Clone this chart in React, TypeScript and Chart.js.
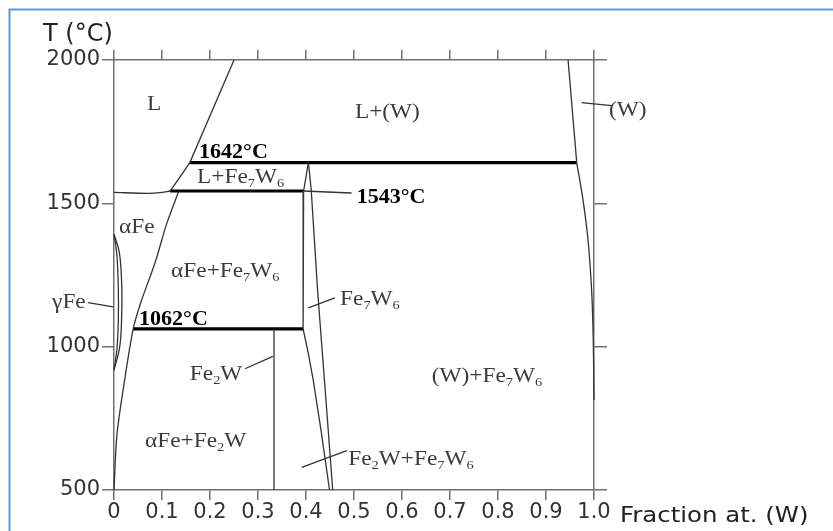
import React, { useEffect, useRef } from "react";
import { Chart, registerables } from "chart.js";

Chart.register(...registerables);

// ---- axis ticks ----
const xTickValues = [0, 0.1, 0.2, 0.3, 0.4, 0.5, 0.6, 0.7, 0.8, 0.9, 1.0];
const yTickValues = [500, 1000, 1500, 2000];
const xAxisTitle = "Fraction at. (W)";
const yAxisTitle = "T (°C)";

// ---- phase boundaries: [fraction W, T °C] ----
const feLiquidus: [number, number][] = [[0, 1538], [0.07, 1535], [0.095, 1537], [0.117, 1543]];
const liquidusLow: [number, number][] = [[0.117, 1543], [0.158, 1642], [0.25, 2000]];
const alphaFeSolvus: [number, number][] = [[0.135, 1543], [0.11, 1430], [0.085, 1290], [0.057, 1160], [0.04, 1062], [0.02, 860], [0.006, 690], [0, 500]];
const gammaLoopOuter: [number, number][] = [[0, 1392], [0.011, 1330], [0.016, 1220], [0.016, 1110], [0.012, 1000], [0, 918]];
const gammaLoopInner: [number, number][] = [[0, 1392], [0.006, 1320], [0.009, 1200], [0.009, 1090], [0.006, 990], [0, 918]];
const peritectic1642: [number, number][] = [[0.158, 1642], [0.964, 1642]];
const eutectic1543: [number, number][] = [[0.117, 1543], [0.395, 1543]];
const eutectoid1062: [number, number][] = [[0.04, 1062], [0.394, 1062]];
const fe2wLine: [number, number][] = [[1 / 3, 1062], [1 / 3, 500]];
const fe7w6Left: [number, number][] = [[0.405, 1642], [0.395, 1543], [0.394, 1062], [0.405, 975], [0.415, 884], [0.432, 700], [0.449, 500]];
const fe7w6Right: [number, number][] = [[0.405, 1642], [0.411, 1543], [0.424, 1200], [0.44, 849], [0.4556, 500]];
const wLiquidus: [number, number][] = [[0.946, 2000], [0.964, 1642]];
const wSolvus: [number, number][] = [[0.964, 1642], [0.977, 1513], [0.9875, 1373], [0.995, 1198], [0.9985, 1024], [1.0, 814]];

// ---- leader lines ----
const leaderGammaFe: [number, number][] = [[-0.054, 1154], [-0.002, 1139]];
const leaderFe2W: [number, number][] = [[0.273, 923], [0.331, 966]];
const leaderFe7W6: [number, number][] = [[0.405, 1135], [0.46, 1170]];
const leader1543: [number, number][] = [[0.394, 1543], [0.495, 1536]];
const leaderW: [number, number][] = [[0.974, 1851], [1.037, 1841]];
const leaderFe2WFe7W6: [number, number][] = [[0.391, 579], [0.485, 637]];

// ---- text labels: [text, fraction W (left edge), T (baseline)] ----
const regionLabels: [string, number, number][] = [
  ["L", 0.069, 1827],
  ["L+(W)", 0.502, 1798],
  ["(W)", 1.031, 1804],
  ["L+Fe_7W_6", 0.173, 1571],
  ["αFe", 0.0104, 1396],
  ["αFe+Fe_7W_6", 0.119, 1243],
  ["γFe", -0.129, 1136],
  ["Fe_7W_6", 0.471, 1146],
  ["Fe_2W", 0.158, 884],
  ["(W)+Fe_7W_6", 0.662, 878],
  ["αFe+Fe_2W", 0.0646, 651],
  ["Fe_2W+Fe_7W_6", 0.488, 587],
];
const temperatureLabels: [string, number, number][] = [
  ["1642°C", 0.177, 1657],
  ["1543°C", 0.5056, 1502],
  ["1062°C", 0.052, 1076],
];

const toPts = (a: [number, number][]) => a.map(([x, y]) => ({ x, y }));

function drawRich(ctx: CanvasRenderingContext2D, text: string, x: number, y: number, size: number, bold: boolean, color: string, sx: number) {
  ctx.save();
  ctx.translate(x, y);
  ctx.scale(sx, 1);
  ctx.fillStyle = color;
  ctx.textBaseline = "alphabetic";
  ctx.textAlign = "left";
  const parts: { s: string; sub: boolean }[] = [];
  let buf = "";
  for (let i = 0; i < text.length; i++) {
    if (text[i] === "_" && i + 1 < text.length) {
      if (buf) parts.push({ s: buf, sub: false });
      buf = "";
      parts.push({ s: text[i + 1], sub: true });
      i++;
    } else buf += text[i];
  }
  if (buf) parts.push({ s: buf, sub: false });
  let cx = 0;
  for (const p of parts) {
    const fs = p.sub ? Math.round(size * 0.6) : size;
    ctx.font = `${bold ? "bold " : ""}${fs}px "Liberation Serif", "Times New Roman", serif`;
    ctx.fillText(p.s, cx, p.sub ? size * 0.19 : 0);
    cx += ctx.measureText(p.s).width;
  }
  ctx.restore();
}

const labelPlugin = {
  id: "phaseLabels",
  beforeDraw(chart: any) {
    const ctx = chart.ctx as CanvasRenderingContext2D;
    ctx.save();
    ctx.fillStyle = "#ffffff";
    ctx.fillRect(0, 0, chart.width, chart.height);
    ctx.strokeStyle = "#5b9bd5";
    ctx.lineWidth = 2;
    ctx.beginPath();
    ctx.moveTo(9.5, chart.height);
    ctx.lineTo(9.5, 9.5);
    ctx.lineTo(chart.width, 9.5);
    ctx.stroke();
    ctx.restore();
  },
  afterDraw(chart: any) {
    const ctx = chart.ctx as CanvasRenderingContext2D;
    const xs = chart.scales.x;
    const ys = chart.scales.y;
    for (const [t, x, y] of regionLabels) {
      drawRich(ctx, t, xs.getPixelForValue(x), ys.getPixelForValue(y), 21, false, "#3a3a3a", 1.11);
    }
    for (const [t, x, y] of temperatureLabels) {
      drawRich(ctx, t, xs.getPixelForValue(x), ys.getPixelForValue(y), 21, true, "#000000", 1.05);
    }
    // axis titles
    ctx.save();
    ctx.fillStyle = "#222222";
    ctx.textBaseline = "alphabetic";
    ctx.textAlign = "left";
    ctx.font = '24px "DejaVu Sans", sans-serif';
    ctx.fillText(yAxisTitle, 43, 40.5);
    ctx.translate(xs.right + 26, 521.5);
    ctx.scale(1.11, 1);
    ctx.font = '22px "DejaVu Sans", sans-serif';
    ctx.fillText(xAxisTitle, 0, 0);
    ctx.restore();
  },
};

export default function App() {
  const ref = useRef<HTMLCanvasElement | null>(null);
  useEffect(() => {
    if (!ref.current) return;
    const thin = (data: [number, number][], tension = 0) => ({
      data: toPts(data),
      showLine: true,
      borderColor: "#333333",
      borderWidth: 1.3,
      pointRadius: 0,
      tension,
      clip: false as any,
    });
    const thick = (data: [number, number][]) => ({
      data: toPts(data),
      showLine: true,
      borderColor: "#000000",
      borderWidth: 3.2,
      pointRadius: 0,
      tension: 0,
      clip: false as any,
    });
    const gridOpts = (len: number) => ({
      drawOnChartArea: false,
      drawTicks: true,
      tickLength: len,
      color: "#707070",
      lineWidth: 1.5,
    });
    const border = { color: "#707070", width: 1.5 };
    const tickFont = { family: "DejaVu Sans", size: 21 };
    const chart = new Chart(ref.current, {
      type: "scatter",
      data: {
        datasets: [
          thin(feLiquidus, 0.3),
          thin(liquidusLow, 0),
          thin(alphaFeSolvus, 0.3),
          thin(gammaLoopOuter, 0.4),
          thin(gammaLoopInner, 0.4),
          thin(fe2wLine),
          thin(fe7w6Left),
          thin(fe7w6Right, 0.2),
          thin(wLiquidus),
          thin(wSolvus, 0.3),
          thin(leaderGammaFe),
          thin(leaderFe2W),
          thin(leaderFe7W6),
          thin(leader1543),
          thin(leaderW),
          thin(leaderFe2WFe7W6),
          thick(peritectic1642),
          thick(eutectic1543),
          thick(eutectoid1062),
        ] as any,
      },
      options: {
        animation: false,
        responsive: false,
        devicePixelRatio: 1,
        layout: { padding: 0 },
        plugins: { legend: { display: false }, tooltip: { enabled: false } },
        events: [],
        scales: {
          x: {
            type: "linear",
            position: "bottom",
            min: 0,
            max: 1,
            afterBuildTicks: (s: any) => { s.ticks = xTickValues.map((v) => ({ value: v })); },
            ticks: {
              autoSkip: false,
              maxRotation: 0,
              padding: 0,
              color: "#333333",
              font: tickFont,
              callback: (v: any) => (Number(v) === 0 ? "0" : Number(v).toFixed(1)),
            },
            grid: gridOpts(10),
            border,
            afterFit: (s: any) => { s.height = 41; },
          },
          xTop: {
            type: "linear",
            position: "top",
            min: 0,
            max: 1,
            afterBuildTicks: (s: any) => { s.ticks = xTickValues.map((v) => ({ value: v })); },
            ticks: { display: false },
            grid: gridOpts(10),
            border,
            afterFit: (s: any) => { s.height = 60; },
          },
          y: {
            type: "linear",
            position: "left",
            min: 500,
            max: 2000,
            afterBuildTicks: (s: any) => { s.ticks = yTickValues.map((v) => ({ value: v })); },
            ticks: {
              padding: 2,
              color: "#333333",
              font: tickFont,
              callback: (v: any) => String(v),
            },
            grid: gridOpts(12),
            border,
            afterFit: (s: any) => { s.width = 114; },
          },
          yRight: {
            type: "linear",
            position: "right",
            min: 500,
            max: 2000,
            afterBuildTicks: (s: any) => { s.ticks = yTickValues.map((v) => ({ value: v })); },
            ticks: { display: false },
            grid: gridOpts(13),
            border,
            afterFit: (s: any) => { s.width = 239; },
          },
        },
      } as any,
      plugins: [labelPlugin],
    });
    return () => chart.destroy();
  }, []);
  return (
    <canvas
      ref={ref}
      width={833}
      height={531}
      style={{ position: "fixed", left: 0, top: 0, width: 833, height: 531 }}
    />
  );
}
